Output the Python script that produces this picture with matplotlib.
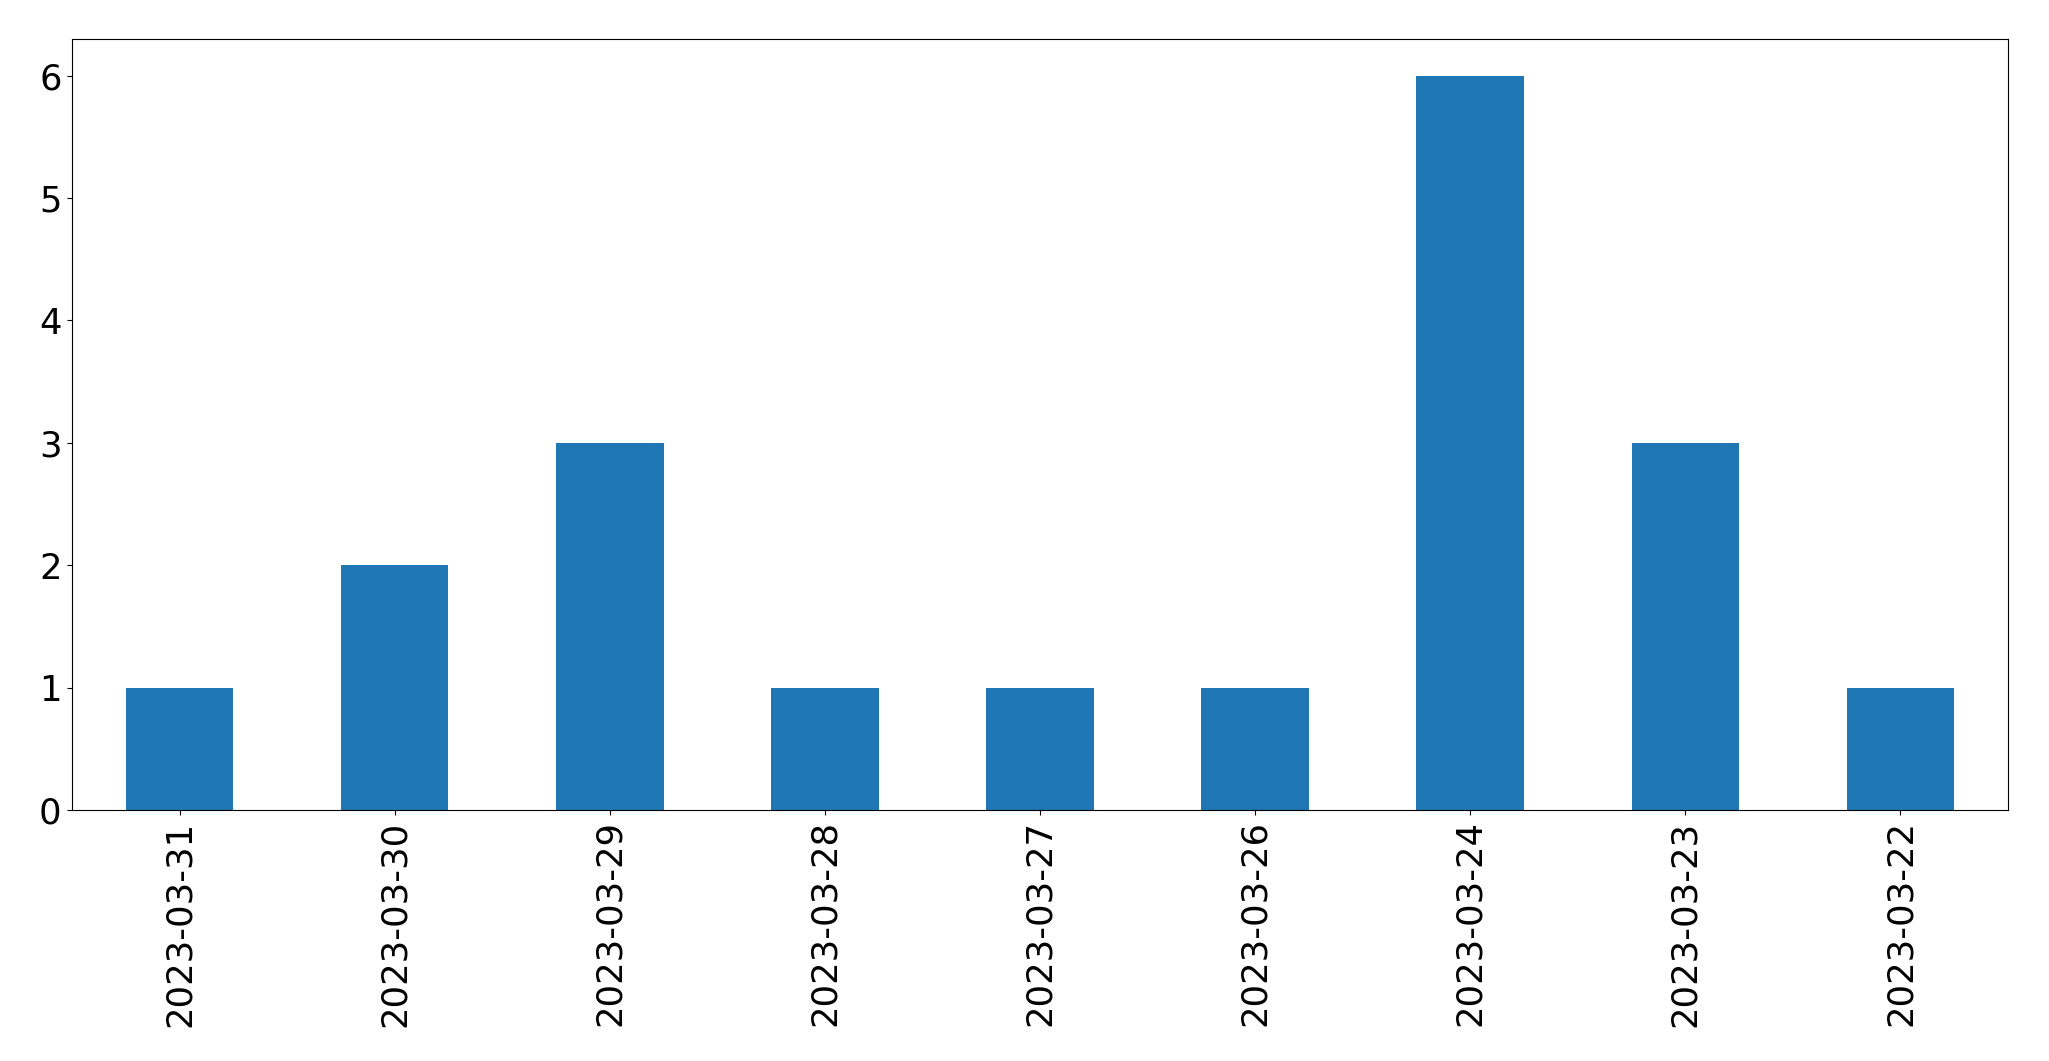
import matplotlib
matplotlib.use("Agg")
import matplotlib.pyplot as plt

dates = ["2023-03-31", "2023-03-30", "2023-03-29", "2023-03-28", "2023-03-27",
         "2023-03-26", "2023-03-24", "2023-03-23", "2023-03-22"]
counts = [1, 2, 3, 1, 1, 1, 6, 3, 1]

fig = plt.figure(figsize=(20.49, 10.61), dpi=100)
ax = fig.add_axes([72/2049, 1 - 810/1061, (2008-72)/2049, (810-39)/1061])
x = range(len(dates))
ax.bar(x, counts, width=0.5, color="#1f77b4")
ax.set_xlim(-0.5, len(dates) - 0.5)
ax.set_ylim(0, 6.3)
ax.set_xticks(list(x))
ax.set_xticklabels(dates, rotation=90)
ax.tick_params(labelsize=25.5, pad=4)
fig.savefig("out.png", dpi=100)
